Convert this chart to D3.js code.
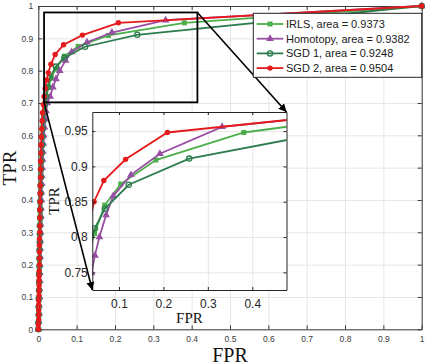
<!DOCTYPE html>
<html lang="en">
<head>
<meta charset="utf-8">
<title>ROC curves</title>
<script src="https://d3js.org/d3.v7.min.js"></script>
<style>
  body { margin: 0; background: #fff; }
  svg { display: block; }
  .grid line { stroke: #e6e6e6; stroke-width: 1; }
  .grid path { display: none; }
</style>
</head>
<body>
<script>
// ROC points, [FPR, TPR]
const irls = [[0,0],[0.001,0.03],[0.001,0.06],[0.002,0.09],[0.002,0.12],[0.002,0.15],[0.003,0.18],[0.003,0.21],[0.003,0.24],[0.004,0.27],[0.004,0.30],[0.005,0.33],[0.005,0.36],[0.005,0.39],[0.006,0.42],[0.006,0.45],[0.007,0.48],[0.008,0.51],[0.008,0.54],[0.009,0.57],[0.010,0.60],[0.012,0.63],[0.014,0.66],[0.017,0.69],[0.021,0.72],[0.027,0.75],[0.034,0.78],[0.045,0.805],[0.068,0.845],[0.104,0.875],[0.183,0.909],[0.381,0.948],[1,1]];
const homotopy = [[0,0],[0.001,0.025],[0.002,0.05],[0.002,0.075],[0.003,0.10],[0.003,0.125],[0.004,0.15],[0.004,0.175],[0.004,0.20],[0.005,0.225],[0.005,0.25],[0.005,0.275],[0.006,0.30],[0.006,0.325],[0.007,0.35],[0.007,0.375],[0.008,0.40],[0.008,0.425],[0.009,0.45],[0.009,0.475],[0.010,0.50],[0.011,0.525],[0.012,0.55],[0.013,0.575],[0.014,0.60],[0.016,0.625],[0.018,0.65],[0.020,0.675],[0.023,0.70],[0.031,0.72],[0.038,0.749],[0.046,0.774],[0.056,0.80],[0.071,0.831],[0.087,0.858],[0.127,0.888],[0.192,0.918],[0.332,0.956],[1,1]];
const sgd1 = [[0,0],[0,0.02],[0.001,0.045],[0.001,0.07],[0.001,0.095],[0.002,0.12],[0.002,0.145],[0.002,0.17],[0.003,0.195],[0.003,0.22],[0.003,0.245],[0.004,0.27],[0.004,0.295],[0.004,0.32],[0.005,0.345],[0.005,0.37],[0.005,0.395],[0.006,0.42],[0.006,0.445],[0.007,0.47],[0.007,0.495],[0.008,0.52],[0.009,0.545],[0.010,0.57],[0.011,0.595],[0.012,0.62],[0.013,0.645],[0.015,0.67],[0.017,0.695],[0.020,0.72],[0.025,0.749],[0.030,0.778],[0.046,0.8125],[0.068,0.84],[0.122,0.874],[0.258,0.911],[1,1]];
const sgd2 = [[0,0],[0,0.015],[0.001,0.03],[0.001,0.045],[0.001,0.06],[0.001,0.075],[0.001,0.09],[0.002,0.105],[0.002,0.12],[0.002,0.135],[0.002,0.15],[0.002,0.165],[0.002,0.18],[0.003,0.2],[0.003,0.22],[0.003,0.24],[0.003,0.26],[0.003,0.28],[0.004,0.3],[0.004,0.32],[0.004,0.345],[0.004,0.37],[0.005,0.395],[0.005,0.42],[0.005,0.445],[0.006,0.47],[0.006,0.495],[0.006,0.52],[0.007,0.545],[0.007,0.57],[0.008,0.595],[0.009,0.62],[0.010,0.645],[0.011,0.67],[0.013,0.695],[0.015,0.72],[0.018,0.745],[0.022,0.771],[0.026,0.794],[0.033,0.82],[0.044,0.85],[0.066,0.88],[0.115,0.91],[0.209,0.948],[1,1]];

const seriesNames = ['IRLS', 'Homotopy', 'SGD 1', 'SGD 2'];
const areas = ['0.9373', '0.9382', '0.9248', '0.9504'];

const mainTicks = [0, 0.1, 0.2, 0.3, 0.4, 0.5, 0.6, 0.7, 0.8, 0.9, 1];
const insetXTicks = [0.1, 0.2, 0.3, 0.4];
const insetYTicks = [0.75, 0.8, 0.85, 0.9, 0.95];
const insetXDomain = [0.04, 0.477];
const insetYDomain = [0.725, 0.977];
const zoomBox = { x0: 0.015, x1: 0.415, y0: 0.702, y1: 0.98 };

const series = [
  { data: irls, color: '#4daf4a', marker: 'square' },
  { data: homotopy, color: '#984ea3', marker: 'triangle' },
  { data: sgd1, color: '#2e7d4e', marker: 'ring' },
  { data: sgd2, color: '#e41a1c', marker: 'dot' }
];

const w = 428, h = 364;
const svg = d3.select('body').append('svg').attr('width', w).attr('height', h);

// main axes
const x = d3.scaleLinear().domain([0, 1]).range([38.3, 421.7]);
const y = d3.scaleLinear().domain([0, 1]).range([329.3, 6]);

svg.append('g').attr('class', 'grid')
   .attr('transform', 'translate(0,6)')
   .call(d3.axisBottom(x).tickValues(mainTicks).tickSize(323.3).tickFormat(''));
svg.append('g').attr('class', 'grid')
   .attr('transform', 'translate(38.3,0)')
   .call(d3.axisRight(y).tickValues(mainTicks).tickSize(383.4).tickFormat(''));

function styleAxis(g, color, size) {
  g.select('.domain').attr('stroke', color).attr('stroke-width', 1);
  g.selectAll('.tick line').attr('stroke', color);
  g.selectAll('.tick text').attr('fill', color).attr('font-size', size)
   .attr('font-family', 'Liberation Sans, Arial, sans-serif');
}

const xAxis = svg.append('g').attr('transform', 'translate(0,329.3)')
   .call(d3.axisBottom(x).tickValues(mainTicks).tickSizeInner(-4).tickSizeOuter(0).tickPadding(6.5).tickFormat(d => d));
styleAxis(xAxis, '#3a3a3a', 8.5);
const yAxis = svg.append('g').attr('transform', 'translate(38.3,0)')
   .call(d3.axisLeft(y).tickValues(mainTicks).tickSizeInner(-4).tickSizeOuter(0).tickPadding(5).tickFormat(d => d));
styleAxis(yAxis, '#3a3a3a', 8.5);
const topAxis = svg.append('g').attr('transform', 'translate(0,6)')
   .call(d3.axisTop(x).tickValues(mainTicks).tickSizeInner(-4).tickSizeOuter(0).tickFormat(''));
styleAxis(topAxis, '#3a3a3a', 8.5);
const rightAxis = svg.append('g').attr('transform', 'translate(421.7,0)')
   .call(d3.axisRight(y).tickValues(mainTicks).tickSizeInner(-4).tickSizeOuter(0).tickFormat(''));
styleAxis(rightAxis, '#3a3a3a', 8.5);

svg.append('text').text('FPR')
   .attr('x', 230).attr('y', 361.5).attr('text-anchor', 'middle')
   .attr('font-family', 'Liberation Serif, Times New Roman, serif').attr('font-size', 20).attr('fill', '#111');
svg.append('text').text('TPR')
   .attr('transform', 'translate(16,168) rotate(-90)').attr('text-anchor', 'middle')
   .attr('font-family', 'Liberation Serif, Times New Roman, serif').attr('font-size', 19).attr('fill', '#111');

function drawMarkers(g, s, sx, sy) {
  const pts = g.selectAll(null).data(s.data).enter();
  if (s.marker === 'square') {
    pts.append('rect').attr('x', d => sx(d[0]) - 2.5).attr('y', d => sy(d[1]) - 2.5)
       .attr('width', 5).attr('height', 5).attr('fill', s.color);
  } else if (s.marker === 'triangle') {
    pts.append('path').attr('d', d3.symbol(d3.symbolTriangle, 26))
       .attr('transform', d => `translate(${sx(d[0])},${sy(d[1])})`).attr('fill', s.color);
  } else if (s.marker === 'ring') {
    pts.append('circle').attr('cx', d => sx(d[0])).attr('cy', d => sy(d[1])).attr('r', 2.6)
       .attr('fill', 'none').attr('stroke', s.color).attr('stroke-width', 1.3);
  } else {
    pts.append('circle').attr('cx', d => sx(d[0])).attr('cy', d => sy(d[1])).attr('r', 2.7)
       .attr('fill', s.color);
  }
}

function drawSeries(g, sx, sy) {
  series.forEach(s => {
    g.append('path').datum(s.data)
     .attr('d', d3.line().x(d => sx(d[0])).y(d => sy(d[1])))
     .attr('fill', 'none').attr('stroke', s.color).attr('stroke-width', 1.8);
    drawMarkers(g, s, sx, sy);
  });
}

drawSeries(svg.append('g'), x, y);

// zoom rectangle
svg.append('rect')
   .attr('x', x(zoomBox.x0)).attr('y', y(zoomBox.y1))
   .attr('width', x(zoomBox.x1) - x(zoomBox.x0)).attr('height', y(zoomBox.y0) - y(zoomBox.y1))
   .attr('fill', 'none').attr('stroke', '#000').attr('stroke-width', 1.8);

// inset
const ix = d3.scaleLinear().domain(insetXDomain).range([92.3, 286.5]);
const iy = d3.scaleLinear().domain(insetYDomain).range([290, 112]);
const iw = 286.5 - 92.3, ih = 290 - 112;

svg.append('rect').attr('x', 92.3).attr('y', 112).attr('width', iw).attr('height', ih).attr('fill', '#fff');
svg.append('g').attr('class', 'grid').attr('transform', 'translate(0,112)')
   .call(d3.axisBottom(ix).tickValues(insetXTicks).tickSize(ih).tickFormat(''));
svg.append('g').attr('class', 'grid').attr('transform', 'translate(92.3,0)')
   .call(d3.axisRight(iy).tickValues(insetYTicks).tickSize(iw).tickFormat(''));

svg.append('clipPath').attr('id', 'insetClip')
   .append('rect').attr('x', 92.3).attr('y', 112).attr('width', iw).attr('height', ih);
drawSeries(svg.append('g').attr('clip-path', 'url(#insetClip)'), ix, iy);

const ixAxis = svg.append('g').attr('transform', 'translate(0,290)')
   .call(d3.axisBottom(ix).tickValues(insetXTicks).tickSizeInner(-3).tickSizeOuter(0).tickPadding(9.5).tickFormat(d => d));
styleAxis(ixAxis, '#262626', 12);
const iyAxis = svg.append('g').attr('transform', 'translate(92.3,0)')
   .call(d3.axisLeft(iy).tickValues(insetYTicks).tickSizeInner(-3).tickSizeOuter(0).tickPadding(4.5).tickFormat(d => d));
styleAxis(iyAxis, '#262626', 12);
const itAxis = svg.append('g').attr('transform', 'translate(0,112)')
   .call(d3.axisTop(ix).tickValues(insetXTicks).tickSizeInner(-3).tickSizeOuter(0).tickFormat(''));
styleAxis(itAxis, '#262626', 12);
const irAxis = svg.append('g').attr('transform', 'translate(286.5,0)')
   .call(d3.axisRight(iy).tickValues(insetYTicks).tickSizeInner(-3).tickSizeOuter(0).tickFormat(''));
styleAxis(irAxis, '#262626', 12);

svg.append('text').text('FPR')
   .attr('x', 189.4).attr('y', 323).attr('text-anchor', 'middle')
   .attr('font-family', 'Liberation Serif, Times New Roman, serif').attr('font-size', 15).attr('fill', '#111');
svg.append('text').text('TPR')
   .attr('transform', 'translate(58.5,201) rotate(-90)').attr('text-anchor', 'middle')
   .attr('font-family', 'Liberation Serif, Times New Roman, serif').attr('font-size', 15).attr('fill', '#111');

// arrows from the zoom box to the inset
svg.append('defs').append('marker').attr('id', 'arrow')
   .attr('viewBox', '0 0 10 10').attr('refX', 10).attr('refY', 5)
   .attr('markerWidth', 5).attr('markerHeight', 5).attr('markerUnits', 'strokeWidth')
   .attr('orient', 'auto')
   .append('path').attr('d', 'M0,0 L10,5 L0,10 z').attr('fill', '#000');

const arrows = [
  [[x(zoomBox.x0), y(zoomBox.y0)], [ix(insetXDomain[0]), iy(insetYDomain[0])]],
  [[x(zoomBox.x1), y(zoomBox.y1)], [ix(insetXDomain[1]), iy(insetYDomain[1])]]
];
arrows.forEach(a => {
  svg.append('line').attr('x1', a[0][0]).attr('y1', a[0][1]).attr('x2', a[1][0]).attr('y2', a[1][1])
     .attr('stroke', '#000').attr('stroke-width', 1.6).attr('marker-end', 'url(#arrow)');
});

// legend
const legend = svg.append('g').attr('transform', 'translate(253.3,13.3)');
legend.append('rect').attr('width', 168.4).attr('height', 64)
      .attr('fill', '#fff').attr('stroke', '#262626').attr('stroke-width', 1);
series.forEach((s, i) => {
  const cy = 10.7 + i * 14.7;
  const row = legend.append('g');
  row.append('line').attr('x1', 3.4).attr('x2', 30).attr('y1', cy).attr('y2', cy)
     .attr('stroke', s.color).attr('stroke-width', 1.8);
  drawMarkers(row, { data: [[16.7, cy]], color: s.color, marker: s.marker }, v => v, v => v);
  row.append('text').text(`${seriesNames[i]}, area = ${areas[i]}`)
     .attr('x', 32.7).attr('y', cy + 4)
     .attr('font-family', 'Liberation Sans, Arial, sans-serif').attr('font-size', 11).attr('fill', '#1a1a1a');
});
</script>
</body>
</html>
